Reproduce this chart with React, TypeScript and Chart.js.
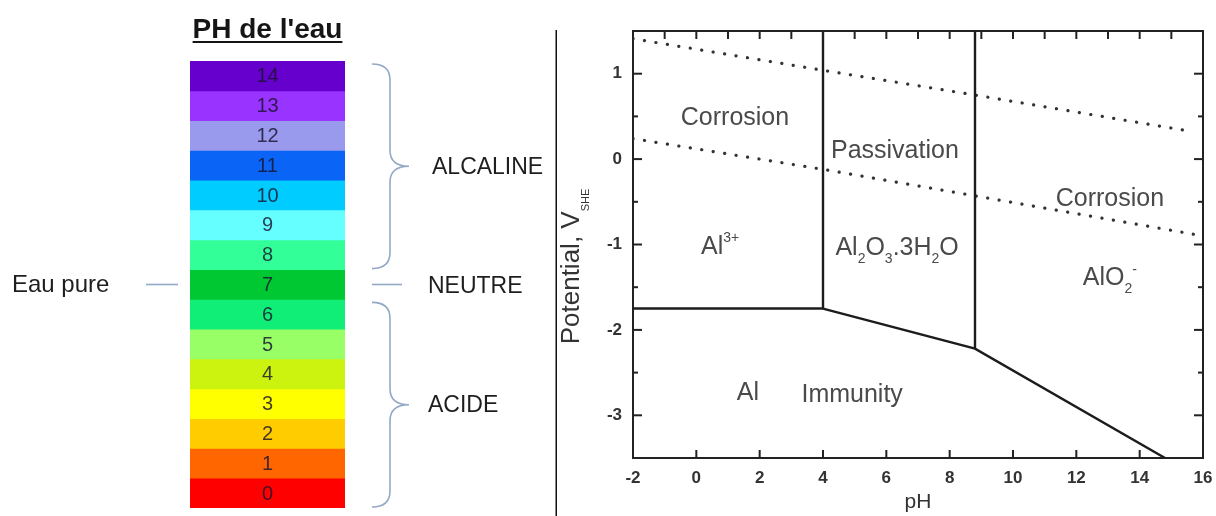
import React, { useEffect, useRef } from "react";
import { Chart, registerables } from "chart.js";

Chart.register(...registerables);

// ---------- Left: water pH scale ----------
const phLevels = [0, 1, 2, 3, 4, 5, 6, 7, 8, 9, 10, 11, 12, 13, 14];
const phColors = [
  "#ff0000", "#ff6600", "#ffcc00", "#ffff00", "#ccf20f", "#99ff66", "#11ee77",
  "#00c832", "#33ff99", "#66ffff", "#00ccff", "#0a64f5", "#9999ee", "#9933ff", "#6600cc",
];
const phBandValue = phLevels.map(() => 1);
const scaleTitle = "PH de l'eau";
const groupNames = ["ACIDE", "NEUTRE", "ALCALINE"];
const groupFrom = [0, 7, 8];
const groupTo = [6, 7, 14];
const pureWaterLabel = "Eau pure";
const pureWaterPh = 7;

// ---------- Right: Pourbaix diagram of aluminium ----------
const phMin = -2;
const phMax = 16;
const eMin = -3.5;
const eMax = 1.5;
const xAxisTitle = "pH";
const yAxisTitle = "Potential, V_{SHE}";

const alIonX = [-2, 4];
const alIonY = [-1.75, -1.75];
const ph4X = [4, 4];
const ph4Y = [1.5, -1.75];
const oxideFloorX = [4, 8.8, 14.8];
const oxideFloorY = [-1.75, -2.22, -3.5];
const ph88X = [8.8, 8.8];
const ph88Y = [1.5, -2.22];
const oxygenX = [-2, 4, 8.8, 15.7];
const oxygenY = [1.41, 1.04, 0.75, 0.32];
const hydrogenX = [-2, 4, 8.8, 15.7];
const hydrogenY = [0.24, -0.12, -0.43, -0.88];

const regionNames = [
  "Corrosion", "Passivation", "Corrosion", "Al^{3+}", "Al_{2}O_{3}.3H_{2}O",
  "AlO_{2}^{-}", "Al", "Immunity",
];
const regionX = [1.22, 6.27, 13.06, 0.75, 6.34, 13.06, 1.63, 4.92];
const regionY = [0.5, 0.12, -0.44, -1.0, -1.02, -1.37, -2.72, -2.74];

const FONT = "'Liberation Sans', Arial, sans-serif";

type Seg = { t: string; mode: "n" | "sub" | "sup" };
function parseRich(s: string): Seg[] {
  const segs: Seg[] = [];
  let i = 0;
  const isMark = (k: number) => (s[k] === "_" || s[k] === "^") && s[k + 1] === "{";
  while (i < s.length) {
    if (isMark(i)) {
      const end = s.indexOf("}", i);
      segs.push({ t: s.slice(i + 2, end), mode: s[i] === "_" ? "sub" : "sup" });
      i = end + 1;
    } else {
      let j = i;
      while (j < s.length && !isMark(j)) j++;
      segs.push({ t: s.slice(i, j), mode: "n" });
      i = j;
    }
  }
  return segs;
}

function drawRich(
  ctx: CanvasRenderingContext2D, s: string, x: number, y: number, size: number,
  color: string, smallSize?: number, subDrop?: number
) {
  const segs = parseRich(s);
  const small = smallSize ?? Math.round(size * 0.56);
  const drop = subDrop ?? size * 0.3;
  let total = 0;
  const widths = segs.map((g) => {
    ctx.font = `${g.mode === "n" ? size : small}px ${FONT}`;
    const w = ctx.measureText(g.t).width;
    total += w;
    return w;
  });
  let cx = x - total / 2;
  const base = y + size * 0.36;
  ctx.fillStyle = color;
  ctx.textAlign = "left";
  ctx.textBaseline = "alphabetic";
  segs.forEach((g, i) => {
    ctx.font = `${g.mode === "n" ? size : small}px ${FONT}`;
    const by = g.mode === "sub" ? base + drop : g.mode === "sup" ? base - size * 0.45 : base;
    ctx.fillText(g.t, cx, by);
    cx += widths[i];
  });
}

const phScalePlugin = {
  id: "phScaleDecor",
  afterDraw(chart: any) {
    const ctx: CanvasRenderingContext2D = chart.ctx;
    const area = chart.chartArea;
    const meta = chart.getDatasetMeta(0);
    const els = meta.data.map((e: any) => e.getProps(["x", "y", "base", "height"], true));
    ctx.save();

    // title with underline
    const midX = (area.left + area.right) / 2;
    ctx.font = `bold 28px ${FONT}`;
    ctx.fillStyle = "#151515";
    ctx.textAlign = "center";
    ctx.textBaseline = "alphabetic";
    ctx.fillText(scaleTitle, midX, area.top - 23);
    const tw = ctx.measureText(scaleTitle).width;
    ctx.fillRect(midX - tw / 2, area.top - 20, tw, 2);

    // level numbers
    ctx.font = `20px ${FONT}`;
    ctx.textBaseline = "middle";
    els.forEach((e: any, i: number) => {
      ctx.fillStyle = "rgba(25,20,45,0.82)";
      ctx.fillText(String(phLevels[i]), (e.x + e.base) / 2, e.y + 1);
    });

    // braces and group names
    const braceColor = "#93a9c6";
    ctx.strokeStyle = braceColor;
    ctx.lineWidth = 1.6;
    groupNames.forEach((name, g) => {
      const lo = els[groupFrom[g]];
      const hi = els[groupTo[g]];
      const top = hi.y - hi.height / 2 + 3;
      const bot = lo.y + lo.height / 2 - 1;
      const mid = (top + bot) / 2;
      const tip = area.right + 27;
      const spine = area.right + 45;
      const point = area.right + 64;
      if (groupFrom[g] === groupTo[g]) {
        ctx.beginPath();
        ctx.moveTo(tip, lo.y);
        ctx.lineTo(tip + 30, lo.y);
        ctx.stroke();
      } else {
        const r = 16;
        ctx.beginPath();
        ctx.moveTo(tip, top);
        ctx.quadraticCurveTo(spine, top, spine, top + r);
        ctx.lineTo(spine, mid - r);
        ctx.quadraticCurveTo(spine, mid, point, mid);
        ctx.quadraticCurveTo(spine, mid, spine, mid + r);
        ctx.lineTo(spine, bot - r);
        ctx.quadraticCurveTo(spine, bot, tip, bot);
        ctx.stroke();
      }
      ctx.font = `23px ${FONT}`;
      ctx.fillStyle = "#1e1e1e";
      ctx.textAlign = "left";
      ctx.textBaseline = "middle";
      ctx.fillText(name, area.right + (g === 2 ? 87 : 83), (top + bot) / 2 + 1);
    });

    // pure water
    const pw = els[phLevels.indexOf(pureWaterPh)];
    ctx.beginPath();
    ctx.moveTo(area.left - 44, pw.y);
    ctx.lineTo(area.left - 12, pw.y);
    ctx.stroke();
    ctx.font = `24px ${FONT}`;
    ctx.fillStyle = "#1e1e1e";
    ctx.textAlign = "left";
    ctx.fillText(pureWaterLabel, 12, pw.y + 1);

    // separator
    ctx.strokeStyle = "#111";
    ctx.lineWidth = 1.5;
    ctx.beginPath();
    ctx.moveTo(chart.width - 0.75, 30);
    ctx.lineTo(chart.width - 0.75, chart.height);
    ctx.stroke();
    ctx.restore();
  },
};

const pourbaixPlugin = {
  id: "pourbaixDecor",
  afterDraw(chart: any) {
    const ctx: CanvasRenderingContext2D = chart.ctx;
    const area = chart.chartArea;
    const sx = chart.scales.x;
    const sy = chart.scales.y;
    ctx.save();
    ctx.strokeStyle = "#222";
    ctx.lineWidth = 2;
    // inward ticks
    const tickSet: [any, string][] = [
      [chart.scales.x, "bottom"], [chart.scales.x2, "top"],
      [chart.scales.y, "left"], [chart.scales.y2, "right"],
    ];
    tickSet.forEach(([sc, side]) => {
      sc.ticks.forEach((t: any) => {
        const v = t.value;
        if (v <= sc.min || v >= sc.max) return;
        const p = sc.getPixelForValue(v);
        const len = side === "left" || side === "right" ? (Number.isInteger(v) ? 9 : 5) : 8;
        ctx.beginPath();
        if (side === "bottom") { ctx.moveTo(p, area.bottom); ctx.lineTo(p, area.bottom - len); }
        if (side === "top") { ctx.moveTo(p, area.top); ctx.lineTo(p, area.top + len); }
        if (side === "left") { ctx.moveTo(area.left, p); ctx.lineTo(area.left + len, p); }
        if (side === "right") { ctx.moveTo(area.right, p); ctx.lineTo(area.right - len, p); }
        ctx.stroke();
      });
    });

    // region labels
    regionNames.forEach((n, i) => {
      drawRich(ctx, n, sx.getPixelForValue(regionX[i]), sy.getPixelForValue(regionY[i]), 25, "#4a4a4a");
    });

    // x title
    ctx.font = `21px ${FONT}`;
    ctx.fillStyle = "#333";
    ctx.textAlign = "center";
    ctx.textBaseline = "alphabetic";
    ctx.fillText(xAxisTitle, (area.left + area.right) / 2, 508);

    // y title (rotated)
    ctx.translate(13, (area.top + area.bottom) / 2 + 22);
    ctx.rotate(-Math.PI / 2);
    drawRich(ctx, yAxisTitle, 0, 0, 26, "#333", 11, 10);
    ctx.restore();
  },
};

const pts = (xs: number[], ys: number[]) => xs.map((x, i) => ({ x, y: ys[i] }));

function PhScale() {
  const ref = useRef<HTMLCanvasElement>(null);
  useEffect(() => {
    const chart = new Chart(ref.current!, {
      type: "bar",
      data: {
        labels: phLevels.map(String),
        datasets: [{
          data: phBandValue,
          backgroundColor: phColors,
          borderWidth: 0,
          barPercentage: 1,
          categoryPercentage: 1,
        }],
      },
      options: {
        indexAxis: "y",
        responsive: false,
        animation: false,
        layout: { padding: { left: 190, right: 212, top: 61, bottom: 8 } },
        plugins: { legend: { display: false }, tooltip: { enabled: false } },
        scales: {
          x: { type: "linear", min: 0, max: 1, display: false },
          y: { type: "category", reverse: true, display: false },
        },
      },
      plugins: [phScalePlugin],
    });
    return () => chart.destroy();
  }, []);
  return (
    <canvas ref={ref} width={557} height={516}
      style={{ position: "absolute", left: 0, top: 0, width: 557, height: 516 }} />
  );
}

function Pourbaix() {
  const ref = useRef<HTMLCanvasElement>(null);
  useEffect(() => {
    const solid = { borderColor: "#1c1c1c", borderWidth: 2.4, pointRadius: 0, showLine: true, fill: false };
    const dotted = {
      borderColor: "#333", borderWidth: 3.2, pointRadius: 0, showLine: true, fill: false,
      borderDash: [0.1, 11.5], borderCapStyle: "round" as const,
    };
    const tickFont = { family: FONT, size: 17, weight: "bold" as const };
    const chart = new Chart(ref.current!, {
      type: "scatter",
      data: {
        datasets: [
          { ...solid, data: pts(alIonX, alIonY) },
          { ...solid, data: pts(ph4X, ph4Y) },
          { ...solid, data: pts(oxideFloorX, oxideFloorY) },
          { ...solid, data: pts(ph88X, ph88Y) },
          { ...dotted, data: pts(oxygenX, oxygenY) },
          { ...dotted, data: pts(hydrogenX, hydrogenY) },
        ],
      },
      options: {
        responsive: false,
        animation: false,
        layout: { padding: 0 },
        plugins: { legend: { display: false }, tooltip: { enabled: false } },
        scales: {
          x: {
            type: "linear", position: "bottom", min: phMin, max: phMax,
            ticks: { stepSize: 2, font: tickFont, color: "#333", padding: 10, maxRotation: 0 },
            grid: { display: false, drawTicks: false },
            border: { display: true, width: 2, color: "#222" },
            afterFit: (s: any) => { s.height = 58; s.paddingLeft = 0; s.paddingRight = 0; },
          },
          x2: {
            type: "linear", position: "top", min: phMin, max: phMax,
            ticks: { stepSize: 1, display: false },
            grid: { display: false, drawTicks: false },
            border: { display: true, width: 2, color: "#222" },
            afterFit: (s: any) => { s.height = 31; s.paddingLeft = 0; s.paddingRight = 0; },
          },
          y: {
            type: "linear", position: "left", min: eMin, max: eMax,
            ticks: {
              stepSize: 0.5, font: tickFont, color: "#333", padding: 11,
              callback: (v: any) => (Number.isInteger(v) ? String(v) : ""),
            },
            grid: { display: false, drawTicks: false },
            border: { display: true, width: 2, color: "#222" },
            afterFit: (s: any) => { s.width = 76; s.paddingTop = 0; s.paddingBottom = 0; },
          },
          y2: {
            type: "linear", position: "right", min: eMin, max: eMax,
            ticks: { stepSize: 0.5, display: false },
            grid: { display: false, drawTicks: false },
            border: { display: true, width: 2, color: "#222" },
            afterFit: (s: any) => { s.width = 13; s.paddingTop = 0; s.paddingBottom = 0; },
          },
        },
      },
      plugins: [pourbaixPlugin],
    });
    return () => chart.destroy();
  }, []);
  return (
    <canvas ref={ref} width={659} height={516}
      style={{ position: "absolute", left: 557, top: 0, width: 659, height: 516 }} />
  );
}

export default function App() {
  return (
    <div style={{ position: "fixed", left: 0, top: 0, width: 1216, height: 516, background: "#fff", overflow: "hidden" }}>
      <PhScale />
      <Pourbaix />
    </div>
  );
}
